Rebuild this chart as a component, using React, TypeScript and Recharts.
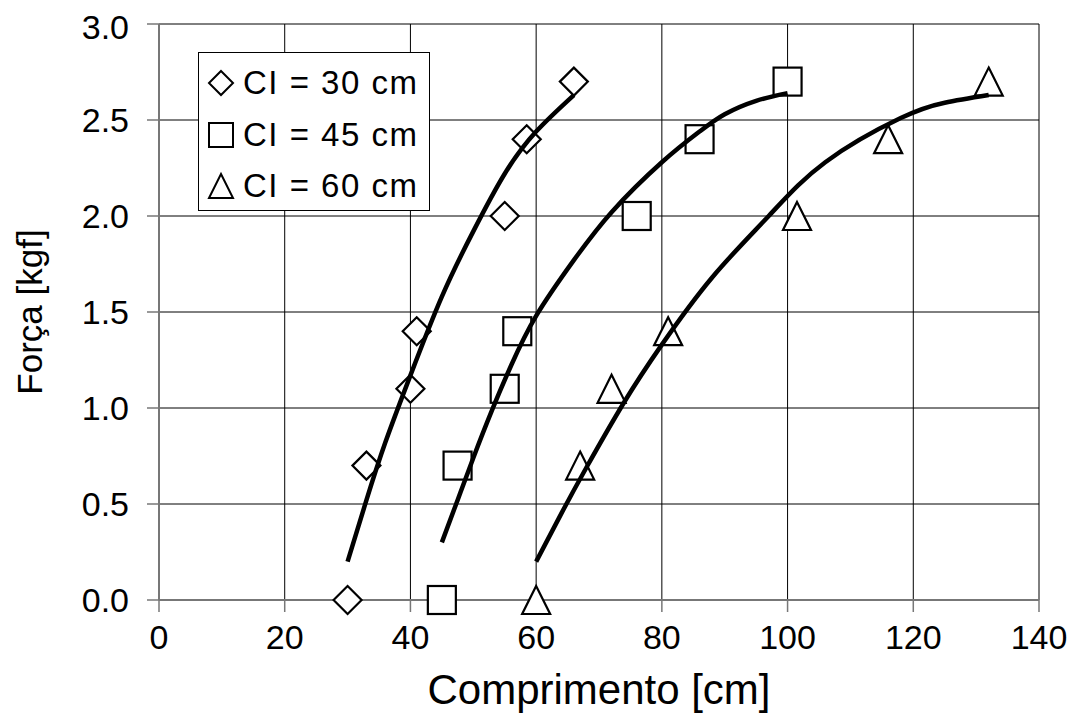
import React from 'react';
import { ScatterChart, Scatter, XAxis, YAxis, CartesianGrid, Legend } from 'recharts';

const xTicks = [0, 20, 40, 60, 80, 100, 120, 140];
const yTicks = [0, 0.5, 1, 1.5, 2, 2.5, 3];

const seriesNames = ['CI = 30 cm', 'CI = 45 cm', 'CI = 60 cm'];

const ci30 = [
  { x: 30, y: 0 }, { x: 33, y: 0.7 }, { x: 40, y: 1.1 }, { x: 41, y: 1.4 },
  { x: 55, y: 2.0 }, { x: 58.5, y: 2.4 }, { x: 66, y: 2.7 },
];
const ci45 = [
  { x: 45, y: 0 }, { x: 47.5, y: 0.7 }, { x: 55, y: 1.1 }, { x: 57, y: 1.4 },
  { x: 76, y: 2.0 }, { x: 86, y: 2.4 }, { x: 100, y: 2.7 },
];
const ci60 = [
  { x: 60, y: 0 }, { x: 67, y: 0.7 }, { x: 72, y: 1.1 }, { x: 81, y: 1.4 },
  { x: 101.5, y: 2.0 }, { x: 116, y: 2.4 }, { x: 132, y: 2.7 },
];

const fit30 = [
  { x: 30, y: 0.2 }, { x: 33, y: 0.52 }, { x: 36, y: 0.82 }, { x: 40, y: 1.17 },
  { x: 45, y: 1.58 }, { x: 50, y: 1.92 }, { x: 55, y: 2.22 }, { x: 60, y: 2.44 }, { x: 66, y: 2.63 },
];
const fit45 = [
  { x: 45, y: 0.3 }, { x: 47.5, y: 0.52 }, { x: 50, y: 0.74 }, { x: 53, y: 0.99 },
  { x: 56, y: 1.22 }, { x: 60, y: 1.48 }, { x: 66, y: 1.77 }, { x: 72, y: 2.02 },
  { x: 80, y: 2.28 }, { x: 86, y: 2.44 }, { x: 90, y: 2.53 }, { x: 95, y: 2.6 }, { x: 100, y: 2.64 },
];
const fit60 = [
  { x: 60, y: 0.2 }, { x: 64, y: 0.45 }, { x: 68, y: 0.69 }, { x: 74, y: 1.03 },
  { x: 80, y: 1.33 }, { x: 88, y: 1.68 }, { x: 97, y: 2.0 }, { x: 106, y: 2.28 },
  { x: 118, y: 2.51 }, { x: 125, y: 2.59 }, { x: 132, y: 2.63 },
];

const FONT = '"Liberation Sans", Arial, Helvetica, sans-serif';
const R = 14;

const Diamond = (p: any) => {
  const { cx, cy, r = R, sw = 2.2 } = p;
  return (
    <polygon
      points={`${cx},${cy - r} ${cx + r},${cy} ${cx},${cy + r} ${cx - r},${cy}`}
      fill="#fff" stroke="#000" strokeWidth={sw}
    />
  );
};
const Square = (p: any) => {
  const { cx, cy, r = R, sw = 2.2 } = p;
  return <rect x={cx - r} y={cy - r} width={2 * r} height={2 * r} fill="#fff" stroke="#000" strokeWidth={sw} />;
};
const Triangle = (p: any) => {
  const { cx, cy, r = R, sw = 2.2 } = p;
  return (
    <polygon
      points={`${cx},${cy - r} ${cx + r},${cy + r} ${cx - r},${cy + r}`}
      fill="#fff" stroke="#000" strokeWidth={sw}
    />
  );
};
const NoShape = () => <g />;

const shapes: Record<string, any> = {
  [seriesNames[0]]: Diamond,
  [seriesNames[1]]: Square,
  [seriesNames[2]]: Triangle,
};

const LegendBox = (props: any) => {
  const payload = (props.payload || []).filter((e: any) => shapes[e.value]);
  return (
    <div
      style={{
        width: 232, height: 159, boxSizing: 'border-box', border: '1.5px solid #000',
        background: '#fff', position: 'relative', fontFamily: FONT,
      }}
    >
      {payload.map((e: any, i: number) => {
        const S = shapes[e.value];
        return (
          <div key={e.value} style={{ position: 'absolute', left: 0, top: 30 + i * 51.5 - 20, height: 40, display: 'flex', alignItems: 'center' }}>
            <svg width={44} height={40} style={{ display: 'block' }}>
              <S cx={22} cy={20} r={12} sw={2} />
            </svg>
            <span style={{ fontSize: 33, letterSpacing: 1.5, color: '#000', lineHeight: '40px', whiteSpace: 'nowrap' }}>{e.value}</span>
          </div>
        );
      })}
    </div>
  );
};

export default function App() {
  return (
    <div style={{ width: 1067, height: 718, background: '#fff' }}>
      <ScatterChart width={1067} height={718} margin={{ top: 16, right: 36, bottom: 0, left: 0 }}>
        <CartesianGrid stroke="#000" strokeWidth={1} horizontalValues={yTicks} verticalValues={xTicks} />
        <XAxis
          type="number" dataKey="x" domain={[0, 140]} ticks={xTicks}
          height={126} tickSize={12} tickMargin={13}
          axisLine={{ stroke: '#777', strokeWidth: 2 }} tickLine={{ stroke: '#777', strokeWidth: 1.5 }}
          tick={{ fill: '#000', fontSize: 34, fontFamily: FONT }}
          label={{ value: 'Comprimento [cm]', position: 'insideBottom', offset: 22, fill: '#000', fontSize: 42, fontFamily: FONT }}
        />
        <YAxis
          type="number" dataKey="y" domain={[0, 3]} ticks={yTicks}
          width={151} tickSize={12} tickMargin={18}
          tickFormatter={(v: number) => v.toFixed(1)}
          axisLine={{ stroke: '#777', strokeWidth: 2 }} tickLine={{ stroke: '#777', strokeWidth: 1.5 }}
          tick={{ fill: '#000', fontSize: 34, fontFamily: FONT }}
          label={{ value: 'Força [kgf]', angle: -90, position: 'insideLeft', offset: 22, fill: '#000', fontSize: 35, fontFamily: FONT, style: { textAnchor: 'middle' } }}
        />
        <Legend
          layout="horizontal" verticalAlign="middle" align="center"
          wrapperStyle={{ position: 'absolute', left: 190, top: 44, width: 232, height: 159 }}
          content={<LegendBox />}
        />
        <Scatter name={seriesNames[0]} data={ci30} shape={Diamond} isAnimationActive={false} />
        <Scatter name={seriesNames[1]} data={ci45} shape={Square} isAnimationActive={false} />
        <Scatter name={seriesNames[2]} data={ci60} shape={Triangle} isAnimationActive={false} />
        <Scatter name="fit30" legendType="none" data={fit30} shape={NoShape} line={{ stroke: '#000', strokeWidth: 4.5 }} lineJointType="natural" isAnimationActive={false} />
        <Scatter name="fit45" legendType="none" data={fit45} shape={NoShape} line={{ stroke: '#000', strokeWidth: 4.5 }} lineJointType="natural" isAnimationActive={false} />
        <Scatter name="fit60" legendType="none" data={fit60} shape={NoShape} line={{ stroke: '#000', strokeWidth: 4.5 }} lineJointType="natural" isAnimationActive={false} />
      </ScatterChart>
    </div>
  );
}
